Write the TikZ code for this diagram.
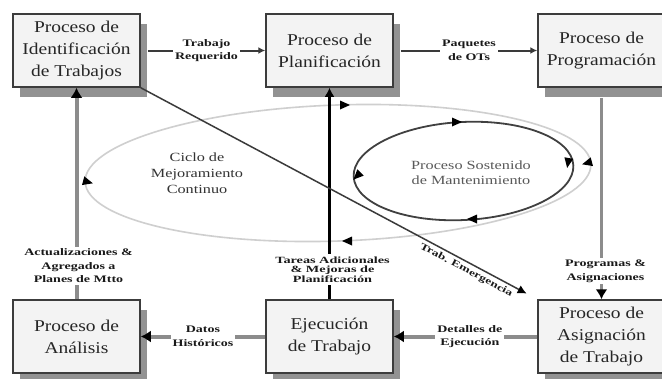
\documentclass[tikz,border=0pt]{standalone}
\usepackage{fontspec}
\setmainfont{Liberation Serif}
\newfontfamily\boxfont[FakeStretch=1.18]{Liberation Serif}
\newfontfamily\lblfont[FakeStretch=1.4]{Liberation Serif}
\newfontfamily\tightfont[FakeStretch=1.5]{Liberation Serif}
\newfontfamily\ellfont[FakeStretch=1.3]{Liberation Serif}
\usetikzlibrary{arrows.meta,shadows,backgrounds}
\definecolor{boxfill}{HTML}{F3F3F3}
\definecolor{boxline}{HTML}{3C3C3C}
\definecolor{shadowgray}{HTML}{929292}
\definecolor{thickgray}{HTML}{8C8C8C}
\definecolor{cyclegray}{HTML}{CFCFCF}
\definecolor{innerline}{HTML}{404040}
\definecolor{darkline}{HTML}{3A3A3A}
\newcommand{\ahead}[3]{\fill[black, shift={(#1,#2)}, rotate=#3] (5pt,0pt) -- (-5pt,4.5pt) -- (-5pt,-4.5pt) -- cycle;}
\tikzset{
  procbox/.style={draw=boxline, line width=1.5pt, fill=boxfill,
    minimum width=127pt, minimum height=73pt, inner sep=0pt, align=center,
    font=\boxfont\fontsize{16.5}{22}\selectfont, text=black!85,
    drop shadow={shadow xshift=7pt, shadow yshift=-10pt, fill=shadowgray, opacity=1}},
  lbl/.style={align=center, font=\lblfont\bfseries\fontsize{10}{13.5}\selectfont,
    fill=white, inner sep=2pt, text=black!90},
  thinarr/.style={draw=darkline, line width=2pt, -{Latex[length=7pt,width=7pt]}},
  thickarr/.style={draw=thickgray, line width=4pt, -{Latex[length=10pt,width=12pt,color=black]}},
  midarr/.style={draw=thickgray, line width=3pt, -{Latex[length=10pt,width=12pt,color=black]}},
  blackarr/.style={draw=black, line width=3pt, -{Latex[length=9pt,width=10pt]}},
  diagarr/.style={draw=darkline, line width=1.5pt, -{Latex[length=9pt,width=9pt,color=black]}},
  elltext/.style={align=center, font=\ellfont\fontsize{12.5}{16}\selectfont}
}
\begin{document}
\begin{tikzpicture}[x=1pt,y=-1pt]
\useasboundingbox (0,0) rectangle (662,378);
\clip (0,0) rectangle (662,378);

% boxes
\node[procbox] (ident) at (76.5,50.5) {Proceso de\\Identificación\\de Trabajos};
\node[procbox] (plan) at (329.5,50.5) {Proceso de\\Planificación};
\node[procbox] (prog) at (601.5,50.5) {Proceso de\\Programación};
\node[procbox] (anal) at (76.5,336.5) {Proceso de\\Análisis};
\node[procbox] (ejec) at (329.5,336.5) {Ejecución\\de Trabajo};
\node[procbox] (asig) at (601.5,336.5) {Proceso de\\Asignación\\de Trabajo};

% cycle texts
\node[elltext, text=black!80] (ciclo) at (197,173) {Ciclo de\\Mejoramiento\\Continuo};
\node[elltext, text=black!65, font=\ellfont\fontsize{12.5}{15}\selectfont] (sost) at (471,172.5) {Proceso Sostenido\\de Mantenimiento};

\begin{scope}[on background layer]
  \fill[white] (0,0) rectangle (662,378);
  \draw[cyclegray, line width=1.6pt] (338,173) ellipse [x radius=253pt, y radius=68pt, rotate=2];
  \draw[innerline, line width=1.8pt] (463.5,171) ellipse [x radius=110pt, y radius=49pt, rotate=3];
  \draw[thinarr] ([xshift=7pt]ident.east) -- node[lbl] {Trabajo\\Requerido} (plan.west);
  \draw[thinarr] ([xshift=7pt]plan.east) -- node[lbl] {Paquetes\\de OTs} (prog.west);
\end{scope}

% connectors
\draw[midarr] ([yshift=-10pt]prog.south) -- node[lbl, pos=0.86, xshift=4pt] {Programas \&\\Asignaciones} (asig.north);
\draw[thickarr] (asig.west) -- node[lbl, pos=0.47] {Detalles de\\Ejecución} (ejec.east);
\draw[thickarr] (ejec.west) -- node[lbl] {Datos\\Históricos} (anal.east);
\draw[thickarr] (anal.north) -- node[lbl, pos=0.157, xshift=2pt] {Actualizaciones \&\\Agregados a\\Planes de Mtto} (ident.south);
\draw[blackarr] (ejec.north) -- node[lbl, pos=0.14, xshift=3pt, font=\tightfont\bfseries\fontsize{9.5}{9.5}\selectfont, inner sep=3pt] {Tareas Adicionales\\\& Mejoras de\\Planificación} (plan.south);
\draw[diagarr, shorten >=12pt] (ident.south east) -- node[sloped, below, pos=0.83, inner sep=3pt, font=\lblfont\bfseries\fontsize{9.5}{11}\selectfont, text=black!90] {Trab. Emergencia} (asig.north west);

% arrowheads on the cycles
\ahead{345}{105}{0}
\ahead{587}{163}{195}
\ahead{347}{241}{180}
\ahead{88}{182}{-15}
\ahead{457}{122}{0}
\ahead{568}{163}{-100}
\ahead{472}{219}{180}
\ahead{357}{176}{-135}
\end{tikzpicture}
\end{document}
